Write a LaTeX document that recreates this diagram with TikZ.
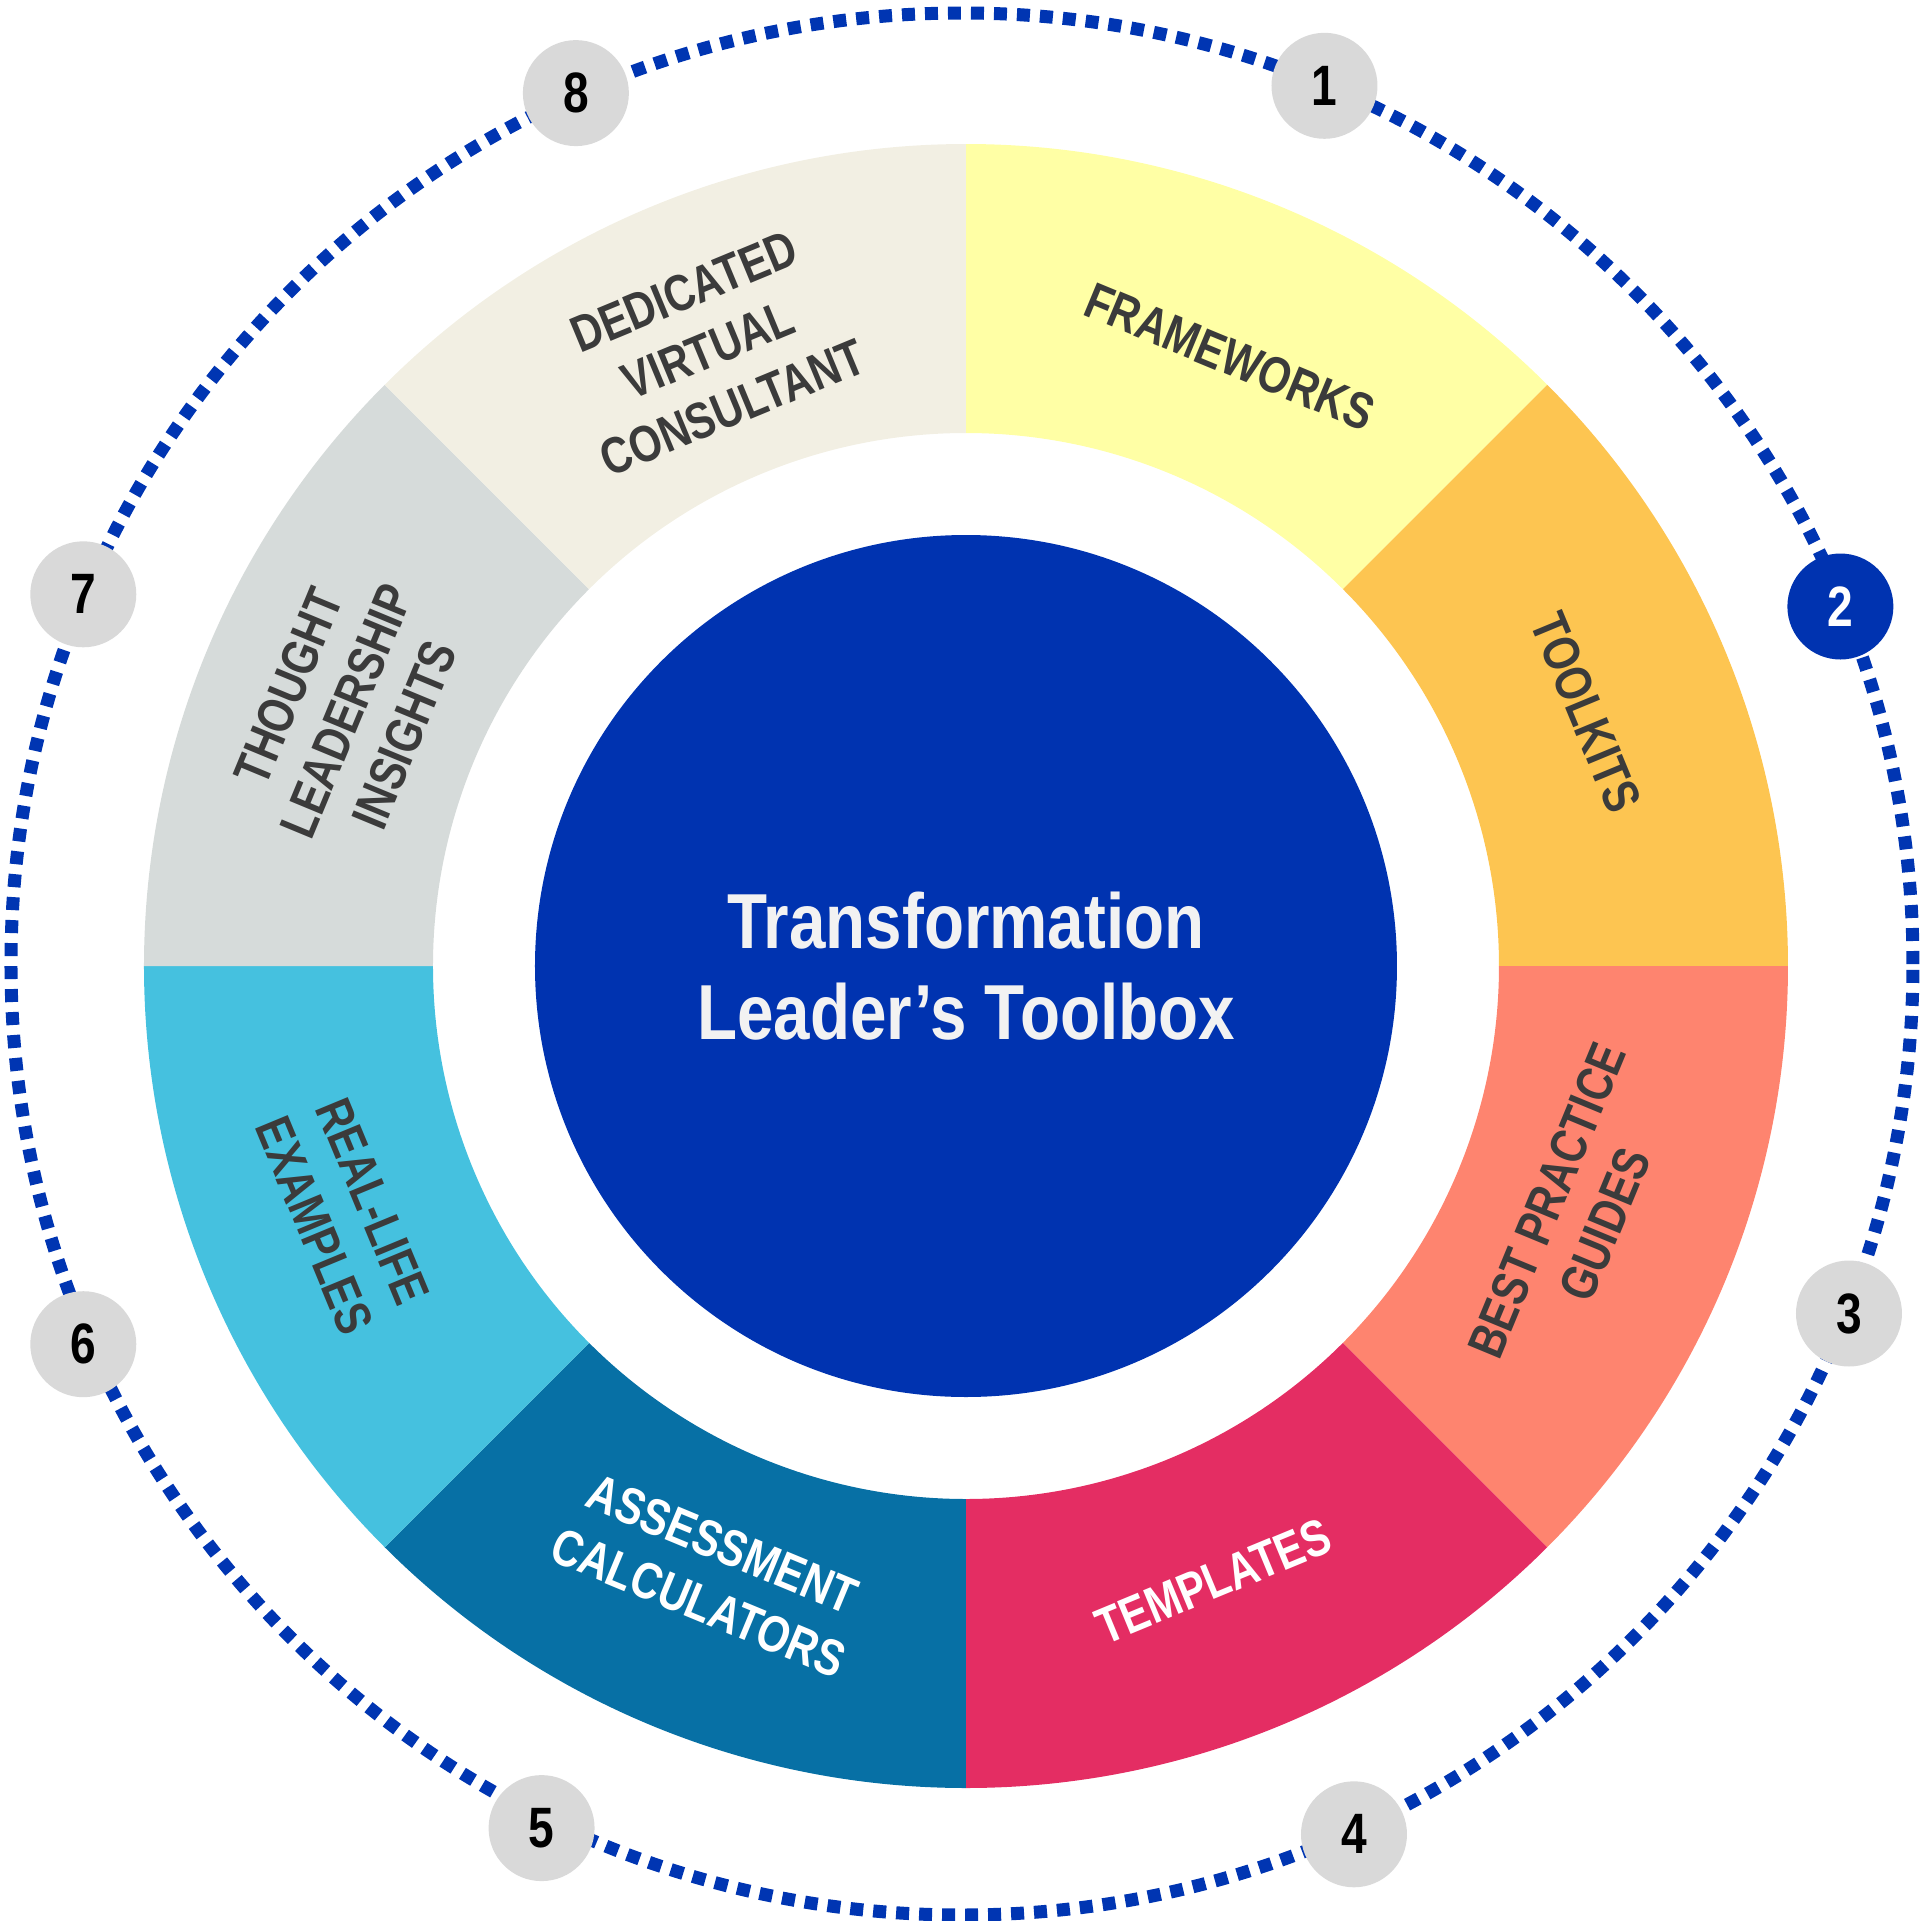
\documentclass[tikz,border=0pt]{standalone}
\usepackage{fontspec}
\newfontfamily\condsans[FakeStretch=0.81]{Liberation Sans}
\newfontfamily\hubsans[FakeStretch=0.84]{Liberation Sans}
\usetikzlibrary{positioning}

\definecolor{hubblue}{HTML}{0033B0}
\definecolor{dotblue}{HTML}{0035B2}
\definecolor{segyellow}{HTML}{FFFFA5}
\definecolor{segorange}{HTML}{FDC551}
\definecolor{segsalmon}{HTML}{FE846F}
\definecolor{segpink}{HTML}{E42D63}
\definecolor{segteal}{HTML}{0770A5}
\definecolor{segcyan}{HTML}{45C1DF}
\definecolor{seggrey}{HTML}{D6DBDA}
\definecolor{segbeige}{HTML}{F2EFE3}
\definecolor{badgegrey}{HTML}{D9D9D9}
\definecolor{labelgrey}{HTML}{3B3B3B}
\definecolor{hubtext}{HTML}{F2F2F2}

\tikzstyle{dotring}=[draw=dotblue,line width=0.13cm,dash pattern=on 0.13cm off 0.10cm]
\tikzstyle{hub}=[circle,fill=hubblue,minimum size=8.62cm,inner sep=0pt,text=hubtext,align=center,
  font=\hubsans\bfseries\fontsize{22.2}{25.9}\selectfont]
\tikzstyle{seglabel}=[inner sep=0pt,align=center,text=labelgrey,
  font=\condsans\bfseries\fontsize{14.6}{17.9}\selectfont]
\tikzstyle{badge}=[circle,fill=badgegrey,minimum size=1.06cm,inner sep=0pt,text=black,
  font=\condsans\bfseries\fontsize{16.2}{16.2}\selectfont]

\begin{document}
\begin{tikzpicture}
    \useasboundingbox (-9.66,-9.55) rectangle (9.54,9.66);
    
    % ring of eight sectors
    \foreach \a/\col in {90/segyellow,45/segorange,0/segsalmon,-45/segpink,
        -90/segteal,-135/segcyan,-180/seggrey,-225/segbeige}
    {
        \pgfmathsetmacro{\b}{\a-45}
        \fill[\col] (\a:8.22) arc[start angle=\a,end angle=\b,radius=8.22]
            -- (\b:5.33) arc[start angle=\b,end angle=\a,radius=5.33] -- cycle;
    }
    
    \node[hub] (hub) at (0,0) {Transformation\\Leader’s Toolbox};
    
    \node[seglabel,rotate=-22.5] (frameworks) at (66.6:6.64)  {FRAMEWORKS};
    \node[seglabel,rotate=-67.5] (toolkits)   at (22.2:6.70)  {TOOLKITS};
    \node[seglabel,rotate=67.5]  (guides)     at (-22.0:6.58) {BEST PRACTICE\\GUIDES};
    \node[seglabel,rotate=22.5,text=white]  (templates) at (-68.1:6.63) {TEMPLATES};
    \node[seglabel,rotate=-22.5,text=white] (calcs)     at (-112.8:6.59) {ASSESSMENT\\CALCULATORS};
    \node[seglabel,rotate=-67.5] (examples)   at (-158.3:6.70) {REAL-LIFE\\EXAMPLES};
    \node[seglabel,rotate=67.5]  (insights)   at (157.6:6.70) {THOUGHT\\LEADERSHIP\\INSIGHTS};
    \node[seglabel,rotate=22.5]  (consultant) at (112.7:6.68) {DEDICATED\\VIRTUAL\\CONSULTANT};
    
    % dotted outer track with numbered stops
    \coordinate (track) at (-0.04,0.02);
    \draw[dotring] (track) circle (9.51);
    
    \node[badge] (b1) at (3.585,8.802)   {1};
    \node[badge,fill=hubblue,text=white] (b2) at (8.744,3.595) {2};
    \node[badge] (b3) at (8.830,-3.475)  {3};
    \node[badge] (b4) at (3.880,-8.683)  {4};
    \node[badge] (b5) at (-4.244,-8.621) {5};
    \node[badge] (b6) at (-8.827,-3.782) {6};
    \node[badge] (b7) at (-8.827,3.717)  {7};
    \node[badge] (b8) at (-3.901,8.729)  {8};
    
\end{tikzpicture}
\end{document}
